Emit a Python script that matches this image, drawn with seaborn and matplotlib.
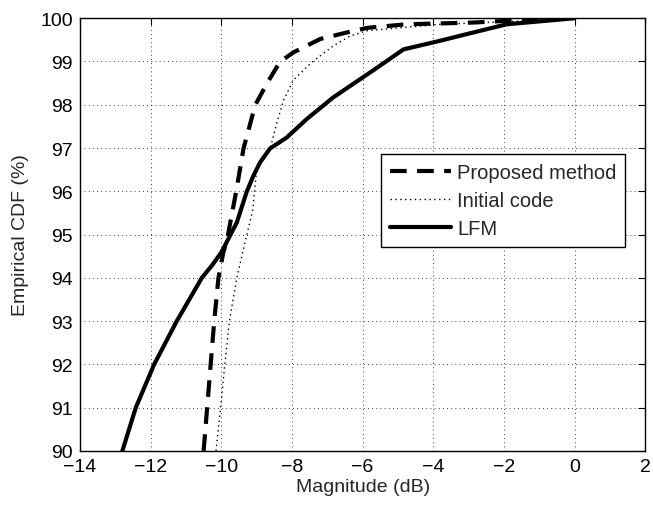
import matplotlib
matplotlib.use("Agg")
import matplotlib.pyplot as plt
import seaborn as sns
import pandas as pd

# Data
proposed_x = [-10.5, -10.4, -10.3, -10.2, -10.08, -9.94, -9.85, -9.58, -9.37, -9.04, -8.71, -8.34, -7.96, -7.2, -6.45, -5.85, -4.75, -2.86, -1.92, 0.0]
proposed_y = [90.0, 91.0, 92.0, 93.0, 94.0, 94.6, 94.82, 95.99, 96.99, 97.99, 98.49, 98.99, 99.21, 99.52, 99.67, 99.78, 99.86, 99.9, 99.94, 100.0]

initial_x = [-10.15, -10.02, -9.9, -9.77, -9.56, -9.37, -9.11, -9.0, -8.62, -8.43, -8.24, -7.96, -7.48, -7.2, -6.83, -6.35, -5.88, -3.8, -1.92, 0.0]
initial_y = [90.0, 91.0, 92.0, 93.0, 94.0, 94.67, 95.57, 96.49, 96.97, 97.57, 98.1, 98.57, 98.95, 99.13, 99.36, 99.59, 99.71, 99.86, 99.92, 100.0]

lfm_x = [-12.8, -12.42, -11.9, -11.26, -10.55, -10.25, -9.99, -9.56, -9.28, -9.09, -8.9, -8.62, -8.15, -7.58, -6.83, -5.69, -4.84, -3.8, -2.67, -1.92, 0.0]
lfm_y = [90.0, 91.0, 92.0, 93.0, 94.0, 94.3, 94.6, 95.28, 95.99, 96.36, 96.67, 96.99, 97.24, 97.67, 98.17, 98.8, 99.28, 99.48, 99.71, 99.86, 100.0]

series_names = ["Proposed method", "Initial code", "LFM"]
x_ticks = [-14, -12, -10, -8, -6, -4, -2, 0, 2]
y_ticks = [90, 91, 92, 93, 94, 95, 96, 97, 98, 99, 100]

sns.set_style("white")
plt.rcParams['font.family'] = ['Liberation Sans', 'DejaVu Sans']
plt.rcParams['axes.unicode_minus'] = True

fig = plt.figure(figsize=(6.53, 5.06), dpi=100)
ax = fig.add_axes([0.1225, 0.107, 0.988 - 0.1225, 0.962 - 0.107])

styles = [
    dict(linestyle=(0, (4, 2.5)), linewidth=3.0),
    dict(linestyle=(0, (1, 2.5)), linewidth=1.0),
    dict(linestyle='-', linewidth=3.0),
]
data = [(proposed_x, proposed_y), (initial_x, initial_y), (lfm_x, lfm_y)]
for name, (xs, ys), st in zip(series_names, data, styles):
    df = pd.DataFrame({"x": xs, "y": ys})
    sns.lineplot(data=df, x="x", y="y", ax=ax, color="black", estimator=None,
                 sort=False, label=name, **st)

ax.set_xlim(-14, 2)
ax.set_ylim(90, 100)
ax.set_xticks(x_ticks)
ax.set_yticks(y_ticks)
ax.set_xticklabels([f"\u2212{abs(t)}" if t < 0 else str(t) for t in x_ticks])
ax.set_yticklabels([str(t) for t in y_ticks])
ax.tick_params(direction='in', length=5, width=0.8, top=True, right=True,
               labelsize=14, colors='black', pad=5)
ax.grid(True, linestyle=(0, (1, 4)), color='black', linewidth=0.6)
for s in ax.spines.values():
    s.set_visible(True)
    s.set_color('black')
    s.set_linewidth(1.0)

ax.set_xlabel("Magnitude (dB)", fontsize=14, labelpad=2)
ax.set_ylabel("Empirical CDF (%)", fontsize=14, labelpad=8)

leg = ax.legend(loc='upper right', bbox_to_anchor=(0.965, 0.686), fontsize=14.5,
                frameon=True, fancybox=False, edgecolor='black', framealpha=1,
                handlelength=3.0, handletextpad=0.3, borderpad=0.45, labelspacing=0.45,
                borderaxespad=0)
leg.get_frame().set_linewidth(1.0)

fig.savefig("out.png", dpi=100)
